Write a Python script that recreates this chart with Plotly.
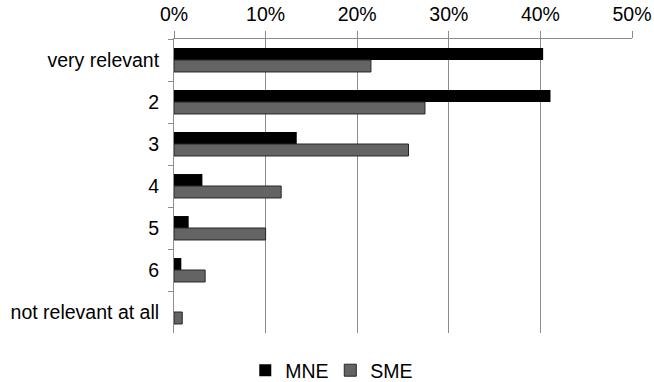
import plotly.graph_objects as go

categories = ["very relevant", "2", "3", "4", "5", "6", "not relevant at all"]
mne = [0.403, 0.411, 0.134, 0.031, 0.016, 0.008, 0.0]
sme = [0.215, 0.274, 0.256, 0.117, 0.100, 0.034, 0.009]
x_ticks = [0, 0.1, 0.2, 0.3, 0.4, 0.5]

FONT = "Liberation Sans, Arial, sans-serif"

fig = go.Figure()
fig.add_trace(go.Bar(y=categories, x=mne, name="MNE", orientation="h",
                     marker=dict(color="#000000", line=dict(width=0))))
fig.add_trace(go.Bar(y=categories, x=sme, name="SME", orientation="h",
                     marker=dict(color="#646464", line=dict(color="#262626", width=1))))

fig.update_layout(
    template="none",
    width=654, height=382,
    margin=dict(l=174, r=22, t=39, b=49, autoexpand=False),
    paper_bgcolor="white", plot_bgcolor="white",
    barmode="group", bargap=0.43, bargroupgap=0,
    font=dict(family=FONT, size=19.5, color="#000000"),
    showlegend=True,
    legend=dict(orientation="h", xref="container", x=0.505, xanchor="center",
                yref="container", y=0.03, yanchor="middle",
                font=dict(size=19.5), itemwidth=30, traceorder="normal",
                entrywidth=40),
)
fig.update_xaxes(side="top", range=[0, 0.5], tickvals=x_ticks, tickformat=".0%",
                 showgrid=True, gridcolor="#8c8c8c", gridwidth=1,
                 showline=True, linecolor="#8c8c8c", linewidth=1,
                 ticks="outside", ticklen=7, tickcolor="#8c8c8c",
                 zeroline=False, automargin=False, ticklabelstandoff=2)
fig.update_yaxes(autorange="reversed", type="category",
                 showline=True, linecolor="#8c8c8c", linewidth=1,
                 ticks="outside", ticklen=5, tickcolor="#8c8c8c",
                 tickson="boundaries", showgrid=False, zeroline=False,
                 automargin=False, ticklabelstandoff=10)

fig.write_html("out.html")
